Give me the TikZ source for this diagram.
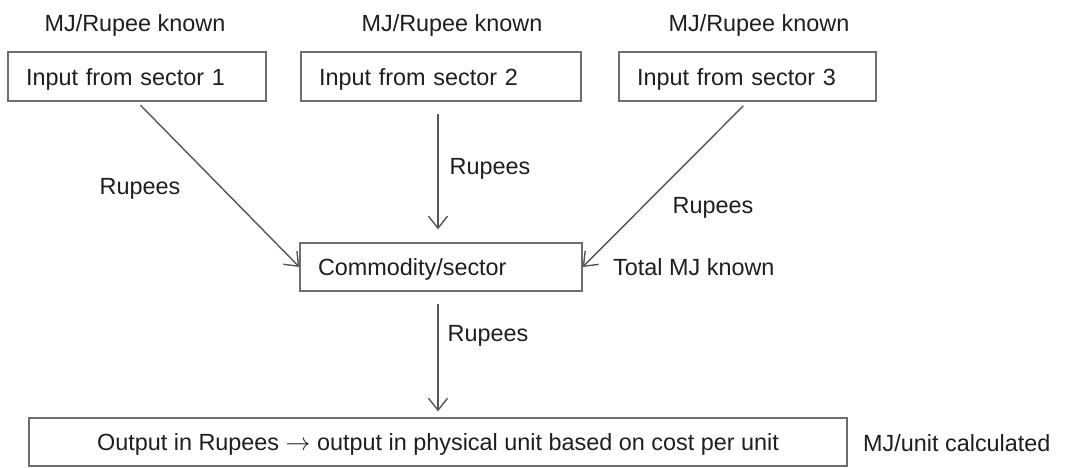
\documentclass[tikz,border=0pt]{standalone}
\usepackage{fontspec}
\setmainfont{Liberation Sans}
\usetikzlibrary{arrows.meta}
\definecolor{lc}{RGB}{85,85,85}
\definecolor{bc}{RGB}{110,110,110}
\definecolor{tc}{RGB}{30,30,30}
\begin{document}
\begin{tikzpicture}[x=1pt,y=-1pt,
  every node/.style={font=\fontsize{23.4}{26}\selectfont, text=tc, text height=17.8pt, text depth=0pt},
  inbox/.style={draw=bc, line width=1.3pt, inner xsep=18pt, inner ysep=0pt, minimum height=49pt, align=left},
  lbl/.style={inner sep=0pt},
  conn/.style={draw=lc, line width=1.4pt, -{Straight Barb[length=12pt,width=19pt,line width=1.4pt]}}
]
\useasboundingbox (0,0) rectangle (1073,467);
% top labels
\node[lbl] (k1) at (135,23) {MJ/Rupee known};
\node[lbl] (k2) at (452,23) {MJ/Rupee known};
\node[lbl] (k3) at (759,23) {MJ/Rupee known};
% input boxes
\node[inbox, text width=222pt] (b1) at (137,76.5) {Input from sector 1};
\node[inbox, text width=244pt] (b2) at (441,76.5) {Input from sector 2};
\node[inbox, text width=221pt] (b3) at (747.5,76.5) {Input from sector 3};
% commodity
\node[inbox, text width=246pt, minimum height=48pt] (cm) at (441,267) {Commodity/sector};
\node[lbl, anchor=west] (tmj) at (613,267) {Total MJ known};
% output box
\node[draw=bc, line width=1.3pt, minimum width=818pt, minimum height=48pt, inner sep=0pt] (out) at (438,442)
  {Output in Rupees $\rightarrow$ output in physical unit based on cost per unit};
\node[lbl, anchor=west] (muc) at (863,443) {MJ/unit calculated};
% connectors
\draw[conn, shorten <=5pt] (b1.south) -- (cm.west);
\draw[conn, shorten <=12pt, shorten >=13pt] ([xshift=-3pt]b2.south) -- ([xshift=-3pt]cm.north);
\draw[conn, shorten <=6pt] (b3.south) -- (cm.east);
\draw[conn, shorten <=12pt, shorten >=6pt] ([xshift=-3pt]cm.south) -- (out.north);
% connector labels
\node[lbl] (r1) at (140,186) {Rupees};
\node[lbl] (r2) at (490,166) {Rupees};
\node[lbl] (r3) at (713,205) {Rupees};
\node[lbl] (r4) at (488,333) {Rupees};
\end{tikzpicture}
\end{document}
